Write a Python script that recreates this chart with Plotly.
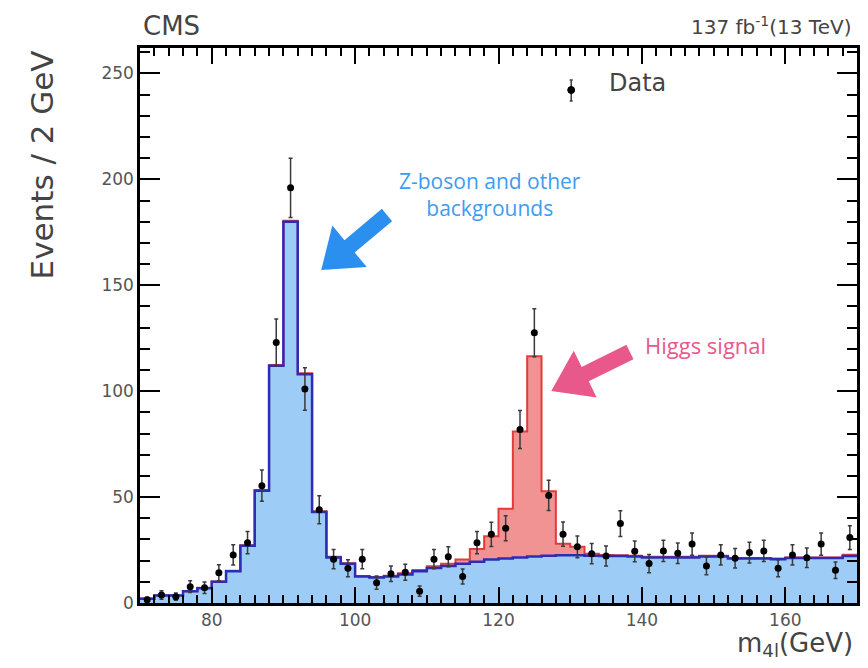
import plotly.graph_objects as go

# ---------------- data ----------------
bin_width = 2
bin_centers = [71, 73, 75, 77, 79, 81, 83, 85, 87, 89,
               91, 93, 95, 97, 99, 101, 103, 105, 107, 109,
               111, 113, 115, 117, 119, 121, 123, 125, 127, 129,
               131, 133, 135, 137, 139, 141, 143, 145, 147, 149,
               151, 153, 155, 157, 159, 161, 163, 165, 167, 169]

background = [2.0, 3.5, 3.5, 5.5, 7.0, 10.0, 15.0, 27.0, 53.0, 112.0,
              180.0, 108.0, 43.0, 21.5, 18.5, 12.5, 12.0, 12.5, 13.5, 15.0,
              16.5, 17.5, 18.5, 19.5, 20.5, 21.0, 21.5, 22.0, 22.3, 22.5,
              22.5, 22.3, 22.2, 22.2, 22.0, 21.5, 21.5, 21.5, 21.5, 22.0,
              22.0, 21.0, 21.0, 21.0, 20.7, 21.2, 21.2, 21.2, 21.2, 22.2]

signal = [0.1, 0.1, 0.1, 0.1, 0.2, 0.2, 0.2, 0.3, 0.3, 0.4,
          0.5, 0.4, 0.3, 0.3, 0.3, 0.3, 0.3, 0.4, 0.5, 0.6,
          0.8, 1.0, 2.0, 6.0, 11.0, 23.5, 59.5, 94.5, 30.5, 5.5,
          4.0, 1.0, 0.5, 0.4, 0.3, 0.3, 0.3, 0.3, 0.3, 0.3,
          0.3, 0.3, 0.3, 0.3, 0.3, 0.3, 0.3, 0.3, 0.3, 0.6]

data_counts = [1.5, 3.8, 3.0, 7.7, 7.2, 14.3, 22.7, 28.5, 55.4, 123.0,
               196.0, 101.0, 44.0, 20.7, 16.4, 20.7, 9.6, 13.8, 14.5, 5.6,
               20.7, 21.8, 12.5, 28.5, 32.4, 35.3, 81.9, 127.6, 50.8, 32.5,
               26.5, 23.3, 22.2, 37.5, 24.4, 18.6, 24.6, 23.5, 27.8, 17.5,
               22.7, 21.1, 23.8, 24.6, 16.4, 22.7, 21.4, 27.8, 15.5, 30.9]

data_errors = [1.2, 2.0, 1.7, 2.8, 2.7, 3.8, 4.8, 5.3, 7.4, 11.1,
               14.0, 10.0, 6.6, 4.5, 4.0, 4.5, 3.1, 3.7, 3.8, 2.4,
               4.5, 4.7, 3.5, 5.3, 5.7, 5.9, 9.0, 11.3, 7.1, 5.7,
               5.1, 4.8, 4.7, 6.1, 4.9, 4.3, 5.0, 4.8, 5.3, 4.2,
               4.8, 4.6, 4.9, 5.0, 4.0, 4.8, 4.6, 5.3, 3.9, 5.6]

x_range = [70, 170]
y_range = [0, 262]

# ---------------- derived step curves ----------------
edges = [c - bin_width / 2 for c in bin_centers] + [bin_centers[-1] + bin_width / 2]
bg_step = background + [background[-1]]
total = [b + s for b, s in zip(background, signal)]
total_step = total + [total[-1]]

BLUE_FILL = "#9dccf6"
BLUE_LINE = "#2c2cb4"
RED_FILL = "#f29393"
RED_LINE = "#e03c3c"

fig = go.Figure()
fig.add_trace(go.Scatter(x=edges, y=bg_step, mode="lines", line_shape="hv",
                         line=dict(width=0, color=BLUE_FILL), fill="tozeroy",
                         fillcolor=BLUE_FILL, showlegend=False, hoverinfo="skip"))
fig.add_trace(go.Scatter(x=edges, y=total_step, mode="lines", line_shape="hv",
                         line=dict(width=0, color=RED_FILL), fill="tonexty",
                         fillcolor=RED_FILL, showlegend=False, hoverinfo="skip"))
fig.add_trace(go.Scatter(x=edges, y=total_step, mode="lines", line_shape="hv",
                         line=dict(width=2, color=RED_LINE), showlegend=False))
fig.add_trace(go.Scatter(x=edges, y=bg_step, mode="lines", line_shape="hv",
                         line=dict(width=2.5, color=BLUE_LINE), showlegend=False))
fig.add_trace(go.Scatter(x=bin_centers, y=data_counts, mode="markers", name="Data",
                         marker=dict(color="black", size=7),
                         error_y=dict(type="data", array=data_errors, color="#3a3a3a",
                                      thickness=1.5, width=2),
                         showlegend=False))

# ---------------- geometry (screen pixels; page body has an 8px margin) ----------------
OFF = 8
W, H = 860, 660
L, R, T, B = 132, 8, 40, 65
PW, PH = W - L - R, H - T - B


def px2data(sx, sy):
    fx, fy = sx - OFF, sy - OFF
    x = x_range[0] + (fx - L) / PW * (x_range[1] - x_range[0])
    y = y_range[0] + (H - B - fy) / PH * (y_range[1] - y_range[0])
    return x, y


def px2paper(sx, sy):
    fx, fy = sx - OFF, sy - OFF
    return (fx - L) / PW, (H - B - fy) / PH


def arrow_path(tip, tail, head_len, head_half, shaft_half):
    tx, ty = tip
    ex, ey = tail
    dx, dy = ex - tx, ey - ty
    ln = (dx * dx + dy * dy) ** 0.5
    ux, uy = dx / ln, dy / ln
    nx, ny = -uy, ux
    bx, by = tx + head_len * ux, ty + head_len * uy
    pts = [
        (tx, ty),
        (bx + head_half * nx, by + head_half * ny),
        (bx + shaft_half * nx, by + shaft_half * ny),
        (ex + shaft_half * nx, ey + shaft_half * ny),
        (ex - shaft_half * nx, ey - shaft_half * ny),
        (bx - shaft_half * nx, by - shaft_half * ny),
        (bx - head_half * nx, by - head_half * ny),
    ]
    d = []
    for i, (px, py) in enumerate(pts):
        x, y = px2data(px, py)
        d.append(("M" if i == 0 else "L") + f"{x:.3f},{y:.3f}")
    return " ".join(d) + " Z"


fig.add_shape(type="path", xref="x", yref="y",
              path=arrow_path((322, 270), (388, 215), 37, 27, 8),
              fillcolor="#2b8ff0", line=dict(width=0))
fig.add_shape(type="path", xref="x", yref="y",
              path=arrow_path((553, 391), (632, 352), 38, 26, 8),
              fillcolor="#e8588a", line=dict(width=0))

# legend glyph for "Data" (marker with error bar)
lx, ly_top = px2paper(573, 80)
_, ly_bot = px2paper(573, 101)
cx0, cy0 = px2paper(569.5, 86.5)
cx1, cy1 = px2paper(576.5, 93.5)
capl, _ = px2paper(571.5, 0)
capr, _ = px2paper(574.5, 0)
fig.add_shape(type="line", xref="paper", yref="paper", x0=lx, x1=lx, y0=ly_bot, y1=ly_top,
              line=dict(color="#3a3a3a", width=1.5))
for yy in (ly_bot, ly_top):
    fig.add_shape(type="line", xref="paper", yref="paper", x0=capl, x1=capr, y0=yy, y1=yy,
                  line=dict(color="#3a3a3a", width=1.5))
fig.add_shape(type="circle", xref="paper", yref="paper", x0=cx0, x1=cx1, y0=cy0, y1=cy1,
              fillcolor="black", line=dict(color="black", width=1))

# ---------------- text ----------------
TXT = "#444444"
zx, zy = px2data(491, 194)
hx, hy = px2data(708, 345)
cms_x, cms_y = px2paper(141, 26)
lumi_x, lumi_y = px2paper(856, 26)
yt_x, yt_y = px2paper(42, 165)
xt_x, xt_y = px2paper(858, 644)
dt_x, dt_y = px2paper(609, 83)

annotations = [
    dict(text="CMS", xref="paper", yref="paper", x=cms_x, y=cms_y, xanchor="left",
         yanchor="middle", showarrow=False, font=dict(family="DejaVu Sans", size=26, color=TXT)),
    dict(text="137 fb<sup>-1</sup>(13 TeV)", xref="paper", yref="paper", x=lumi_x, y=lumi_y,
         xanchor="right", yanchor="middle", showarrow=False,
         font=dict(family="DejaVu Sans", size=20, color=TXT)),
    dict(text="Events / 2 GeV", xref="paper", yref="paper", x=yt_x, y=yt_y,
         xanchor="center", yanchor="middle", textangle=-90, showarrow=False,
         font=dict(family="DejaVu Sans", size=31, color=TXT)),
    dict(text="m<sub>4l</sub>(GeV)", xref="paper", yref="paper", x=xt_x, y=xt_y,
         xanchor="right", yanchor="middle", showarrow=False,
         font=dict(family="DejaVu Sans", size=26, color=TXT)),
    dict(text="Data", xref="paper", yref="paper", x=dt_x, y=dt_y,
         xanchor="left", yanchor="middle", showarrow=False,
         font=dict(family="DejaVu Sans", size=24, color=TXT)),
    dict(text="Z-boson and other<br>backgrounds", xref="x", yref="y", x=zx, y=zy,
         xanchor="center", yanchor="middle", showarrow=False, align="center",
         font=dict(family="Open Sans", size=21, color="#3d9cf2")),
    dict(text="Higgs signal", xref="x", yref="y", x=hx, y=hy,
         xanchor="center", yanchor="middle", showarrow=False,
         font=dict(family="Open Sans", size=22, color="#e8588a")),
]

axis_common = dict(showline=True, linecolor="black", linewidth=2.5, mirror="allticks",
                   ticks="inside", tickcolor="black", tickwidth=2, showgrid=False,
                   zeroline=False, tickfont=dict(family="DejaVu Sans", size=17, color="#555555"))

fig.update_layout(
    width=W, height=H,
    margin=dict(l=L, r=R, t=T, b=B),
    paper_bgcolor="white", plot_bgcolor="white",
    xaxis=dict(range=x_range, tickmode="linear", tick0=0, dtick=20, ticklen=16,
               minor=dict(ticks="inside", dtick=2, ticklen=8, tickcolor="black", tickwidth=1.5),
               **axis_common),
    yaxis=dict(range=y_range, tickmode="linear", tick0=0, dtick=50, ticklen=20,
               minor=dict(ticks="inside", dtick=10, ticklen=10, tickcolor="black", tickwidth=2),
               **axis_common),
    annotations=annotations,
    showlegend=False,
)

fig.write_html("out.html")
